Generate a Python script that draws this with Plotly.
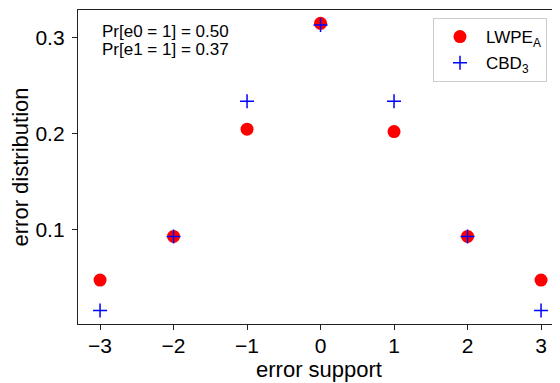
import plotly.graph_objects as go

support = [-3, -2, -1, 0, 1, 2, 3]
lwpe_values = [0.047, 0.0925, 0.2045, 0.315, 0.202, 0.0925, 0.047]
cbd_values = [0.0153, 0.0925, 0.2337, 0.3132, 0.2337, 0.0925, 0.0153]
x_tick_vals = [-3, -2, -1, 0, 1, 2, 3]
x_tick_text = ["\u22123", "\u22122", "\u22121", "0", "1", "2", "3"]
y_tick_vals = [0.1, 0.2, 0.3]
y_tick_text = ["0.1", "0.2", "0.3"]
annotation_lines = ["Pr[e0 = 1] = 0.50", "Pr[e1 = 1] = 0.37"]

FONT = "Liberation Sans, Arial, Helvetica, sans-serif"

fig = go.Figure()
fig.add_trace(go.Scatter(
    x=support, y=lwpe_values, mode="markers", name="LWPE<sub>A</sub>",
    legendgroup="a",
    marker=dict(symbol="circle", size=13, color="#ff0000", line=dict(width=0)),
))
fig.add_trace(go.Scatter(
    x=support, y=cbd_values, mode="markers", name="CBD<sub>3</sub>",
    legendgroup="b",
    marker=dict(symbol="cross-thin", size=10, color="#0000ff",
                line=dict(width=1.5, color="#0000ff")),
))

axis_common = dict(
    showline=True, linecolor="#222222", linewidth=1.3,
    ticks="outside", ticklen=5, tickwidth=1.2, tickcolor="#222222",
    showgrid=False, zeroline=False, automargin=False,
    tickfont=dict(family=FONT, size=21, color="black"),
)

fig.update_xaxes(
    range=[-3.3, 3.258], tickvals=x_tick_vals, ticktext=x_tick_text,
    mirror=True, ticklabelstandoff=-2,
    title=dict(text="error support", font=dict(family=FONT, size=22, color="black"), standoff=5),
    **axis_common,
)
fig.update_yaxes(
    range=[0.0011, 0.3289], tickvals=y_tick_vals, ticktext=y_tick_text,
    mirror=False, ticklabelstandoff=3,
    title=dict(text="error distribution", font=dict(family=FONT, size=22, color="black"), standoff=6),
    **axis_common,
)

for i, line in enumerate(annotation_lines):
    fig.add_annotation(
        text=line, xref="paper", yref="paper",
        x=0.045, y=0.930 - i * 0.055, xanchor="left", yanchor="middle",
        showarrow=False, font=dict(family=FONT, size=17, color="black"),
    )

fig.update_layout(
    width=552, height=375,
    margin=dict(l=70, r=0, t=2, b=59),
    paper_bgcolor="white", plot_bgcolor="white",
    font=dict(family=FONT, color="black"),
    legend=dict(
        x=0.7365, y=0.9745, xanchor="left", yanchor="top",
        bgcolor="rgba(255,255,255,0.8)", bordercolor="#cccccc", borderwidth=1,
        font=dict(family=FONT, size=17, color="black"),
        tracegroupgap=1, itemwidth=42,
    ),
    showlegend=True,
)

fig.write_html("out.html")
